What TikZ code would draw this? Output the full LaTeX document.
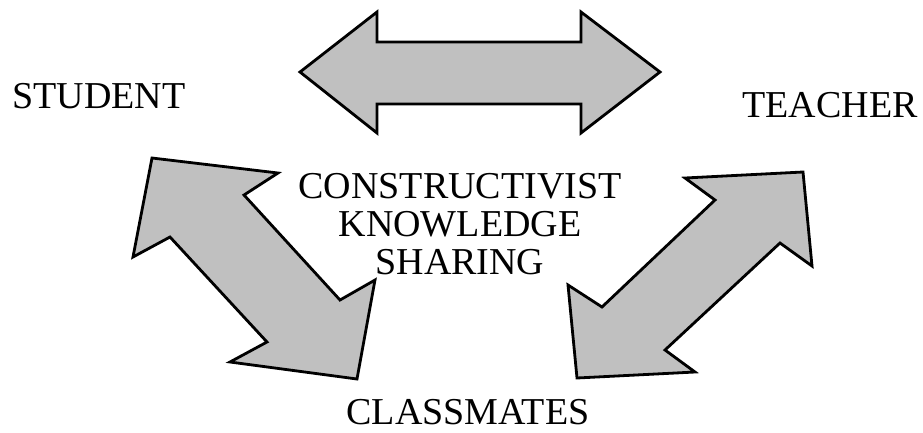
\documentclass[tikz,border=0pt]{standalone}
\usepackage{fontspec}
\setmainfont{Liberation Serif}
\begin{document}
\begin{tikzpicture}[x=1pt,y=-1pt,
  arrowshape/.style={draw=black,fill=arrowgray,line width=2.8pt,line join=miter},
  label/.style={inner sep=0pt,font=\fontsize{38}{38}\selectfont,align=center}]
\definecolor{arrowgray}{RGB}{192,192,192}
\useasboundingbox (0,0) rectangle (923,432);
% top double arrow
\draw[arrowshape] (300,72) -- (377,12) -- (377,42) -- (581,42) -- (581,12) -- (660,72)
  -- (581,133) -- (581,104) -- (377,104) -- (377,133) -- cycle;
% left double arrow
\draw[arrowshape] (152,158) -- (278,173) -- (244,195) -- (340,300) -- (375,280)
  -- (357,379) -- (230,362) -- (267,342) -- (170,237) -- (133,257) -- cycle;
% right double arrow
\draw[arrowshape] (803,172) -- (812,266) -- (780,243) -- (665,350) -- (695,372)
  -- (577,378) -- (568,285) -- (602,307) -- (715,200) -- (685,178) -- cycle;
\node[label] (student) at (99,96) {STUDENT};
\node[label] (teacher) at (830,105) {TEACHER};
\node[label] (center) at (460,224) {CONSTRUCTIVIST\\KNOWLEDGE\\SHARING};
\node[label] (classmates) at (468,412) {CLASSMATES};
\end{tikzpicture}
\end{document}
